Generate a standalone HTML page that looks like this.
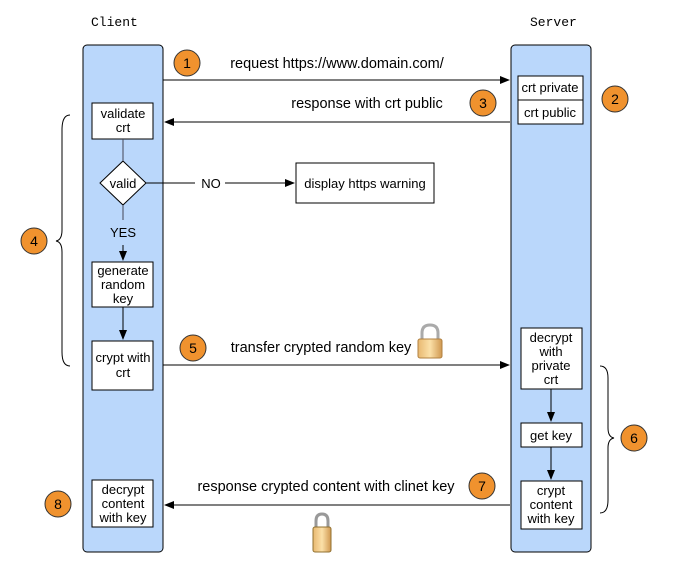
<!DOCTYPE html>
<html><head><style>
body{margin:0;background:#fff;}
svg{display:block;font-family:"Liberation Sans",sans-serif;}
</style></head><body>
<svg width="694" height="571" viewBox="0 0 694 571">
<defs>
<marker id="a" markerWidth="10" markerHeight="8" refX="9" refY="4" orient="auto" markerUnits="userSpaceOnUse"><path d="M0,0 L10,4 L0,8z" fill="#000"/></marker>
<linearGradient id="g" x1="0" x2="1"><stop offset="0" stop-color="#e8b870"/><stop offset=".5" stop-color="#fbe0a8"/><stop offset="1" stop-color="#d09850"/></linearGradient>
</defs>
<text x="91" y="26" font-family="Liberation Mono,monospace" font-size="13">Client</text>
<text x="530" y="26" font-family="Liberation Mono,monospace" font-size="13">Server</text>
<rect x="83" y="45" width="80" height="507" rx="4" fill="#bad7fb" stroke="#000"/>
<rect x="511" y="45" width="80" height="507" rx="4" fill="#bad7fb" stroke="#000"/>
<g fill="#fff" stroke="#000">
<rect x="92" y="103" width="61" height="36"/>
<path d="M123,161 L146,183 L123,205 L100,183z"/>
<rect x="92" y="262" width="61" height="45"/>
<rect x="92" y="341" width="61" height="49"/>
<rect x="92" y="480" width="61" height="47"/>
<rect x="518" y="76" width="65" height="48"/>
<rect x="296" y="163" width="138" height="40"/>
<rect x="521" y="328" width="61" height="61"/>
<rect x="521" y="423" width="61" height="24"/>
<rect x="521" y="481" width="61" height="48"/>
</g>
<line x1="518" y1="100" x2="583" y2="100" stroke="#000"/>
<g stroke="#000" fill="none">
<line x1="123" y1="139" x2="123" y2="161" stroke="#445"/>
<line x1="123" y1="205" x2="123" y2="220" stroke="#445"/>
<line x1="123" y1="245" x2="123" y2="260" marker-end="url(#a)"/>
<line x1="123" y1="307" x2="123" y2="339" marker-end="url(#a)"/>
<line x1="146" y1="183" x2="195" y2="183"/>
<line x1="225" y1="183" x2="294" y2="183" marker-end="url(#a)"/>
<line x1="163" y1="80" x2="509" y2="80" marker-end="url(#a)"/>
<line x1="510" y1="122" x2="165" y2="122" marker-end="url(#a)"/>
<line x1="163" y1="365" x2="509" y2="365" marker-end="url(#a)"/>
<line x1="510" y1="505" x2="165" y2="505" marker-end="url(#a)"/>
<line x1="551" y1="389" x2="551" y2="421" marker-end="url(#a)"/>
<line x1="551" y1="447" x2="551" y2="479" marker-end="url(#a)"/>
<path d="M70,115 Q62,115 62,130 L62,230 Q62,240 56,241 Q62,242 62,252 L62,352 Q62,366 70,366"/>
<path d="M600,366 Q608,366 608,378 L608,428 Q608,437 614,438 Q608,439 608,448 L608,500 Q608,513 600,513"/>
</g>
<g font-size="13" text-anchor="middle">
<text x="123" y="118">validate</text><text x="123" y="132">crt</text>
<text x="123" y="188">valid</text>
<text x="123" y="237">YES</text>
<text x="211" y="188">NO</text>
<text x="123" y="275">generate</text><text x="123" y="289">random</text><text x="123" y="303">key</text>
<text x="123" y="362">crypt with</text><text x="123" y="377">crt</text>
<text x="123" y="494">decrypt</text><text x="123" y="508">content</text><text x="123" y="522">with key</text>
<text x="550" y="92">crt private</text>
<text x="550" y="117">crt public</text>
<text x="365" y="188">display https warning</text>
<text x="551" y="342">decrypt</text><text x="551" y="356">with</text><text x="551" y="370">private</text><text x="551" y="384">crt</text>
<text x="551" y="440">get key</text>
<text x="551" y="495">crypt</text><text x="551" y="509">content</text><text x="551" y="523">with key</text>
</g>
<g font-size="14.5" text-anchor="middle">
<text x="337" y="68">request https://www.domain.com/</text>
<text x="367" y="108">response with crt public</text>
<text x="321" y="352">transfer crypted random key</text>
<text x="326" y="491">response crypted content with clinet key</text>
</g>
<g font-size="14" text-anchor="middle">
<g fill="#f0922e" stroke="#333">
<circle cx="187" cy="63" r="13"/><circle cx="615" cy="99" r="13"/><circle cx="483" cy="103" r="13"/>
<circle cx="34" cy="241" r="13"/><circle cx="193" cy="348" r="13"/><circle cx="634" cy="438" r="13"/>
<circle cx="482" cy="486" r="13"/><circle cx="58" cy="504" r="13"/>
</g>
<text x="187" y="68">1</text><text x="615" y="104">2</text><text x="483" y="108">3</text>
<text x="34" y="246">4</text><text x="193" y="353">5</text><text x="634" y="443">6</text>
<text x="482" y="491">7</text><text x="58" y="509">8</text>
</g>
<path d="M422,340 L422,333 Q422,325 430,325 Q438,325 438,333 L438,340" fill="none" stroke="#aaa" stroke-width="3"/>
<rect x="418" y="339" width="24" height="19" rx="2" fill="url(#g)" stroke="#b08040"/>
<path d="M316,528 L316,521 Q316,514 322,514 Q328,514 328,521 L328,528" fill="none" stroke="#999" stroke-width="3"/>
<rect x="313" y="527" width="18" height="25" rx="2" fill="url(#g)" stroke="#907030"/>
</svg>
</body></html>
